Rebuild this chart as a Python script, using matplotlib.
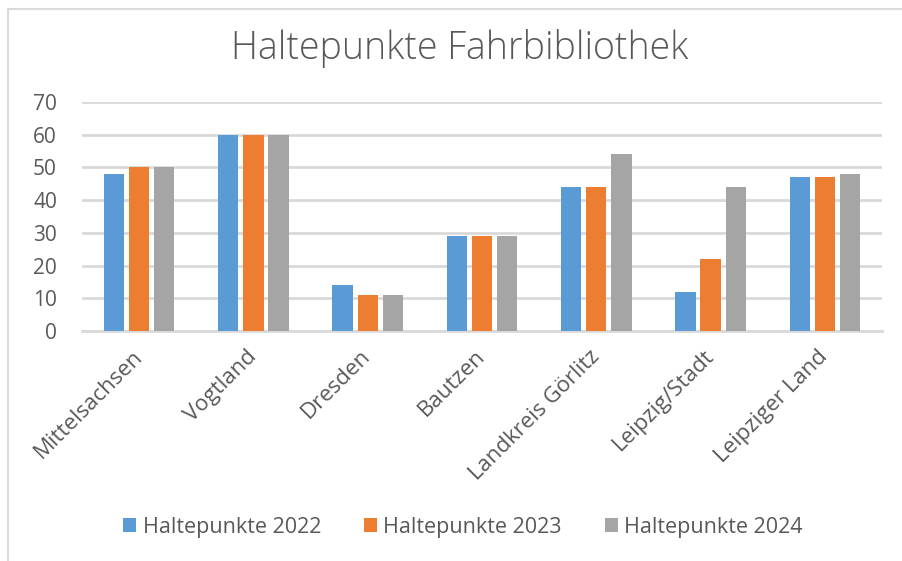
import numpy as np
import matplotlib.pyplot as plt
from matplotlib.patches import Rectangle

# data
regions = ['Mittelsachsen', 'Vogtland', 'Dresden', 'Bautzen',
           'Landkreis Görlitz', 'Leipzig/Stadt', 'Leipziger Land']
hp_2022 = [48, 60, 14, 29, 44, 12, 47]
hp_2023 = [50, 60, 11, 29, 44, 22, 47]
hp_2024 = [50, 60, 11, 29, 54, 44, 48]
series_names = ['Haltepunkte 2022', 'Haltepunkte 2023', 'Haltepunkte 2024']
y_ticks = [0, 10, 20, 30, 40, 50, 60, 70]

colors = ['#5B9BD5', '#ED7D31', '#A5A5A5']
txt = '#595959'
grid = '#D9D9D9'

plt.rcParams['font.family'] = ['Open Sans', 'DejaVu Sans']

fig = plt.figure(figsize=(9.03, 5.61), dpi=100)
fig.patches.append(Rectangle((8 / 903, -0.1), 1.0, 1 - 9 / 561 + 0.1,
                             transform=fig.transFigure, fill=False,
                             edgecolor=grid, linewidth=1.5))

ax = fig.add_axes([82 / 903, 1 - 331 / 561, 800 / 903, 229 / 561])

x = np.arange(len(regions))
w = 0.178
step = 0.22
for i, (vals, name) in enumerate(zip([hp_2022, hp_2023, hp_2024], series_names)):
    ax.bar(x + (i - 1) * step, vals, width=w, color=colors[i], label=name, zorder=3)

ax.set_xlim(-0.5, len(regions) - 0.5)
ax.set_ylim(0, 70)
ax.set_yticks(y_ticks)
ax.yaxis.grid(True, color=grid, linewidth=2, zorder=0)
for s in ['top', 'right', 'left']:
    ax.spines[s].set_visible(False)
ax.spines['bottom'].set_color(grid)
ax.spines['bottom'].set_linewidth(2)
ax.tick_params(axis='both', length=0, labelsize=15, colors=txt)
ax.tick_params(axis='y', pad=18)

ax.set_xticks(x)
ax.set_xticklabels(regions, rotation=45, ha='right', va='center',
                   rotation_mode='anchor', fontsize=16)
ax.tick_params(axis='x', pad=16)

fig.text(460 / 903, 1 - 48 / 561, 'Haltepunkte Fahrbibliothek', ha='center', va='center',
         fontsize=27, color=txt, fontweight='light')

leg = fig.legend(loc='center', bbox_to_anchor=(463 / 903, 1 - 527 / 561), ncol=3,
                 frameon=False, fontsize=15.5, handlelength=0.6, handleheight=0.6,
                 handletextpad=0.3, columnspacing=2.0)
for t in leg.get_texts():
    t.set_color(txt)

fig.savefig('out.png', dpi=100)
